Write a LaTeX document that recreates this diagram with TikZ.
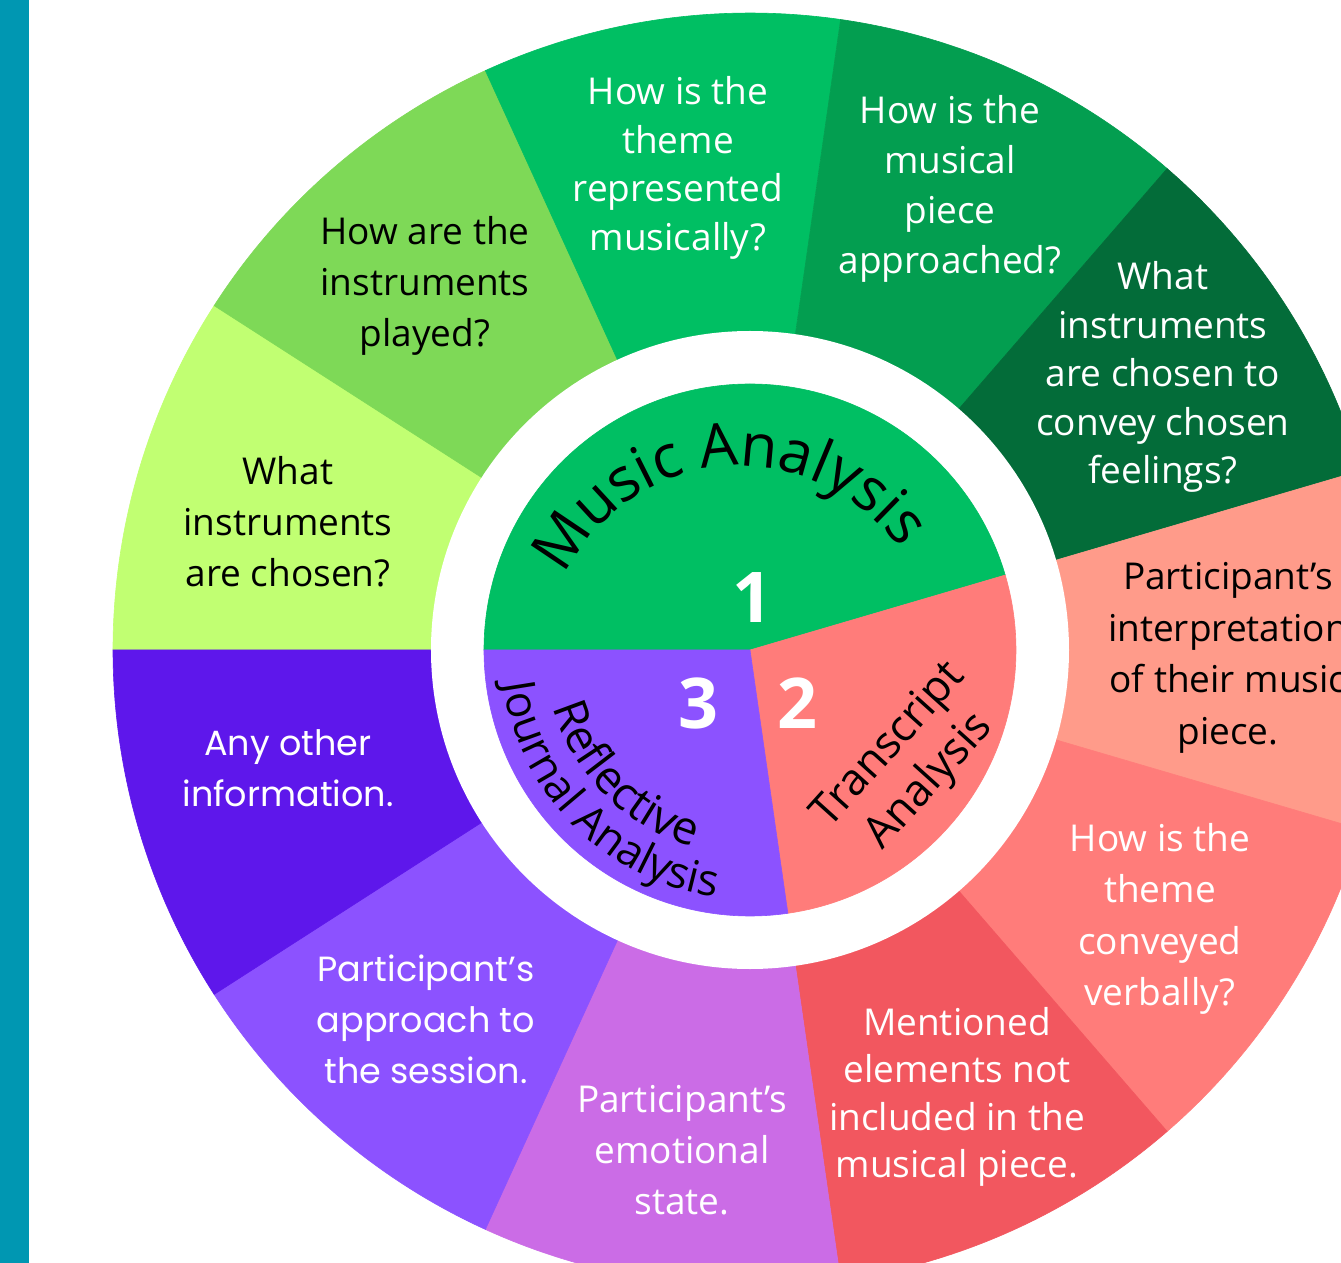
\documentclass[tikz,border=0pt]{standalone}
\usepackage{fontspec}
\setmainfont{Open Sans}
\newfontfamily\roundfont{Poppins}
\usepackage{tikz}
\usetikzlibrary{decorations.text}

\definecolor{barteal}{HTML}{0097B2}
\definecolor{limegreen}{HTML}{C1FF72}
\definecolor{leafgreen}{HTML}{7ED957}
\definecolor{musicgreen}{HTML}{00BF63}
\definecolor{midgreen}{HTML}{039E50}
\definecolor{deepgreen}{HTML}{036C39}
\definecolor{peach}{HTML}{FF9B8A}
\definecolor{salmon}{HTML}{FF7C7A}
\definecolor{coral}{HTML}{F2575F}
\definecolor{orchid}{HTML}{CB6CE6}
\definecolor{violet}{HTML}{8C52FF}
\definecolor{indigo}{HTML}{5E17EB}

\begin{document}
\begin{tikzpicture}[
    x=1pt, y=1pt,
    question/.style={
        align=center,
        inner sep=0pt,
        font=\fontsize{37}{#1}\selectfont
    },
    question/.default=51,
    darkq/.style={question=#1, text=black},
    darkq/.default=51,
    lightq/.style={question=#1, text=white},
    lightq/.default=51,
    roundq/.style={
        align=center,
        inner sep=0pt,
        text=white,
        font=\roundfont\fontsize{35}{51}\selectfont
    },
    number/.style={
        text=white,
        inner sep=0pt,
        font=\fontsize{70}{70}\selectfont\bfseries
    },
    method/.style={
        align=center,
        inner sep=0pt,
        font=\fontsize{44}{54}\selectfont
    }
]

% Page frame
\clip (-750,-613) rectangle (591,650);
\fill[white] (-750,-613) rectangle (591,650);
\fill[barteal] (-750,-613) rectangle (-721,650);

% Outer ring, eleven equal slices running clockwise from the left
\foreach \col [count=\k from 0] in {limegreen, leafgreen, musicgreen, midgreen, deepgreen,
                                    peach, salmon, coral, orchid, violet, indigo}
    \filldraw[fill=\col, draw=\col, line width=0.6pt]
        (0,0) -- ({180-\k*360/11}:637)
        arc[start angle={180-\k*360/11}, delta angle={-360/11}, radius=637] -- cycle;

% White gap between the rings
\fill[white] (0,0) circle[radius=319];

% Inner disc: the three kinds of analysis
\filldraw[fill=musicgreen, draw=musicgreen, line width=0.6pt] (0,0) -- (180:266)
    arc[start angle=180, end angle={180-5*360/11}, radius=266] -- cycle;
\filldraw[fill=salmon, draw=salmon, line width=0.6pt] (0,0) -- ({180-5*360/11}:266)
    arc[start angle={180-5*360/11}, end angle={180-8*360/11}, radius=266] -- cycle;
\filldraw[fill=violet, draw=violet, line width=0.6pt] (0,0) -- ({180-8*360/11}:266)
    arc[start angle={180-8*360/11}, end angle=-180, radius=266] -- cycle;

% Curved titles
\path[decorate, decoration={text along path, text align=center,
        text={|\fontsize{60}{64}\selectfont|Music Analysis}}]
    (-10,-11) ++(162:195) arc[start angle=162, end angle=27, radius=195];
\path[decorate, decoration={text along path, text align=center,
        text={|\fontsize{46}{50}\selectfont|Reflective}}]
    (183:205) arc[start angle=183, end angle=267, radius=205];
\path[decorate, decoration={text along path, text align=center,
        text={|\fontsize{44}{48}\selectfont|Journal Analysis}}]
    (180:249) arc[start angle=180, end angle=270, radius=249];
\node[method, rotate=48] (transcript) at (160,-114) {Transcript\\Analysis};

% Step numbers
\node[number] (one) at (2,52) {1};
\node[number] (two) at (47,-53) {2};
\node[number] (three) at (-52,-53) {3};

% Music analysis questions
\node[darkq] (chosen) at (-462,128) {What\\instruments\\are chosen?};
\node[darkq] (played) at (-325,364) {How are the\\instruments\\played?};
\node[lightq=48.5] (theme) at (-72,482) {How is the\\theme\\represented\\musically?};
\node[lightq=50] (approached) at (200,461) {How is the\\musical\\piece\\approached?};
\node[lightq=48.5] (convey) at (413,273) {What\\instruments\\are chosen to\\convey chosen\\feelings?};

% Transcript questions
\node[darkq=51.5] (interpretation) at (478,-8) {Participant’s\\interpretation\\of their music\\piece.};
\node[lightq=51.5] (verbally) at (410,-269) {How is the\\theme\\conveyed\\verbally?};
\node[lightq=47.5] (mentioned) at (207,-447) {Mentioned\\elements not\\included in the\\musical piece.};

% Journal questions
\node[lightq] (emotional) at (-68,-500) {Participant’s\\emotional\\state.};
\node[roundq] (session) at (-324,-369) {Participant’s\\approach to\\the session.};
\node[roundq] (other) at (-462,-118) {Any other\\information.};

\end{tikzpicture}
\end{document}
